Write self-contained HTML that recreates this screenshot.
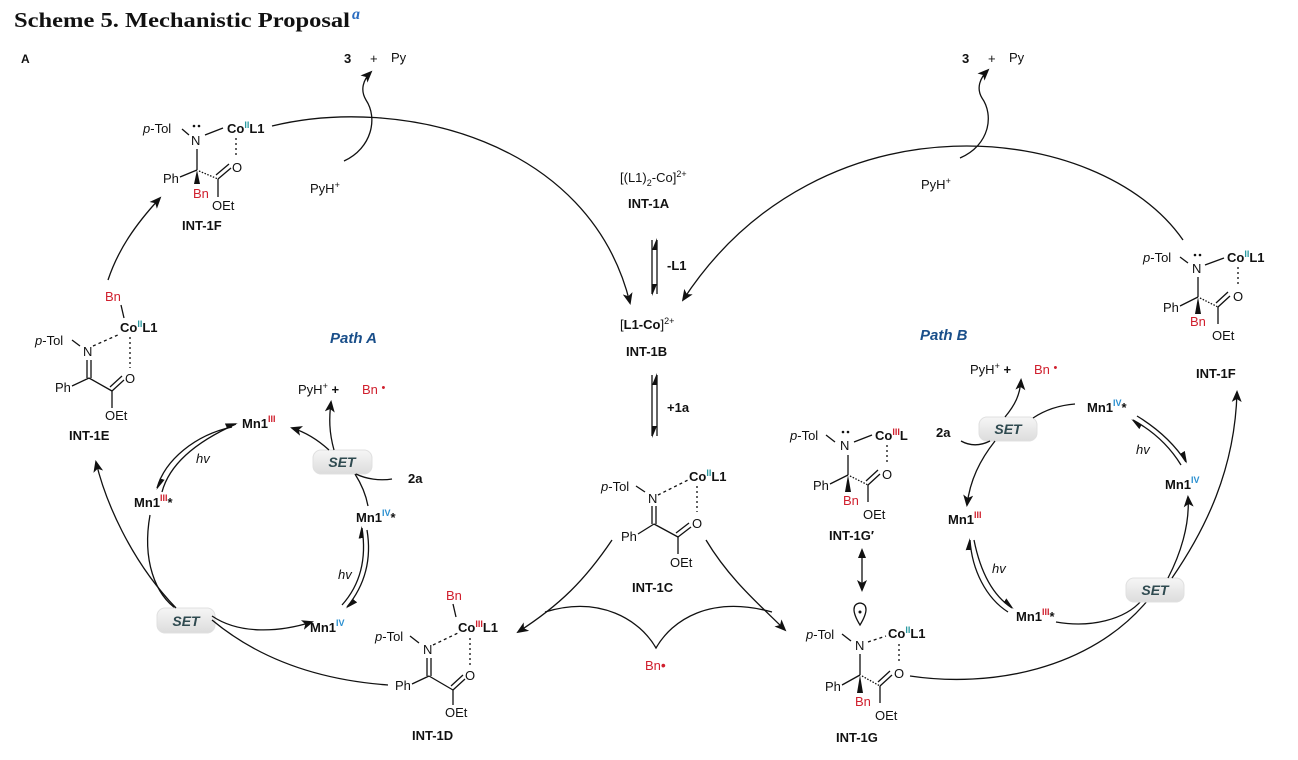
<!DOCTYPE html>
<html><head><meta charset="utf-8"><style>
html,body{margin:0;padding:0;background:#fff;}
svg{display:block;}
text{font-family:"Liberation Sans",Arial,sans-serif;font-size:13px;fill:#111;}
.b{font-weight:bold;}
.r{fill:#d0202e;}
.t{fill:#2a9aa0;}
.bl{fill:#2a8fd0;}
.sup{font-size:9px;}
.set{font-weight:bold;font-style:italic;font-size:14px;fill:#2f4a50;}
.path{font-weight:bold;font-style:italic;font-size:15px;fill:#1a4f8a;}
.l{stroke:#111;stroke-width:1.3;fill:none;}
.d{stroke:#111;stroke-width:1.3;fill:none;stroke-dasharray:3,3;}
</style></head><body>
<svg width="1298" height="760" viewBox="0 0 1298 760" xmlns="http://www.w3.org/2000/svg">
<defs>
<marker id="ah" markerWidth="12" markerHeight="10" refX="10" refY="5" orient="auto" markerUnits="userSpaceOnUse">
<path d="M0,0 L12,5 L0,10 L3,5 Z" fill="#111"/></marker>
<marker id="hh" markerWidth="12" markerHeight="6" refX="10" refY="5" orient="auto" markerUnits="userSpaceOnUse">
<path d="M0,0 L12,5 L0,5 Z" fill="#111"/></marker>
<linearGradient id="g" x1="0" y1="0" x2="0" y2="1"><stop offset="0" stop-color="#f6f6f6"/><stop offset="1" stop-color="#dcdcdc"/></linearGradient>
</defs>

<text x="14" y="27" textLength="336" lengthAdjust="spacingAndGlyphs" style="font-family:'Liberation Serif',serif;font-weight:bold;font-size:21px;">Scheme 5. Mechanistic Proposal</text>
<text x="352" y="19" style="font-family:'Liberation Serif',serif;font-style:italic;font-weight:bold;fill:#2a6cc0;font-size:16px;">a</text>
<text x="21" y="63" class="b" style="font-size:12px">A</text>

<!-- top 3 + Py -->
<text x="344" y="63" class="b">3</text><text x="370" y="63">+</text><text x="391" y="62">Py</text>
<text x="962" y="63" class="b">3</text><text x="988" y="63">+</text><text x="1009" y="62">Py</text>
<text x="310" y="193">PyH<tspan class="sup" dy="-5">+</tspan></text>
<text x="921" y="189">PyH<tspan class="sup" dy="-5">+</tspan></text>
<path class="l" d="M344,161 C372,148 378,118 366,100 C360,90 363,80 371,72" marker-end="url(#ah)"/>
<path class="l" d="M960,158 C990,145 994,115 982,98 C976,88 980,78 988,70" marker-end="url(#ah)"/>

<!-- big arcs -->
<path class="l" d="M272,126 C400,95 590,140 630,303" marker-end="url(#ah)"/>
<path class="l" d="M1183,240 C1100,120 820,90 683,300" marker-end="url(#ah)"/>

<!-- INT-1F left -->
<text x="143" y="133"><tspan font-style="italic">p</tspan>-Tol</text>
<line class="l" x1="182" y1="129" x2="189" y2="135" stroke-width="1"/>
<text x="191" y="145">N</text>
<circle cx="194" cy="126" r="1.3" fill="#111"/><circle cx="199" cy="126" r="1.3" fill="#111"/>
<line class="l" x1="205" y1="135" x2="223" y2="128"/>
<text x="227" y="133" class="b">Co<tspan class="sup t" dy="-5">II</tspan><tspan dy="5">L1</tspan></text>
<line class="d" x1="236" y1="138" x2="236" y2="158" style="stroke-dasharray:2,3"/>
<text x="232" y="172">O</text>
<line class="l" x1="197" y1="149" x2="197" y2="170"/>
<text x="163" y="183">Ph</text>
<line class="l" x1="180" y1="177" x2="197" y2="170"/>
<path d="M197,170 L194,184 L200,184 Z" fill="#111"/>
<line class="d" x1="199" y1="171" x2="218" y2="179" style="stroke-dasharray:1.5,1.5"/>
<line class="l" x1="218" y1="179" x2="231" y2="168"/><line class="l" x1="216" y1="175" x2="229" y2="164"/>
<line class="l" x1="218" y1="179" x2="218" y2="197"/>
<text x="193" y="198" class="r">Bn</text>
<text x="212" y="210">OEt</text>
<text x="182" y="230" class="b">INT-1F</text>

<!-- INT-1A/B -->
<text x="620" y="182">[(L1)<tspan class="sup" dy="4">2</tspan><tspan dy="-4">-Co]</tspan><tspan class="sup" dy="-5">2+</tspan></text>
<text x="628" y="208" class="b">INT-1A</text>
<line class="l" x1="652" y1="240" x2="652" y2="294" marker-end="url(#hh)"/>
<line class="l" x1="657" y1="294" x2="657" y2="240" marker-end="url(#hh)"/>
<text x="667" y="270" class="b">-L1</text>
<text x="620" y="329">[<tspan class="b">L1-Co</tspan>]<tspan class="sup" dy="-5">2+</tspan></text>
<text x="626" y="356" class="b">INT-1B</text>
<line class="l" x1="652" y1="375" x2="652" y2="436" marker-end="url(#hh)"/>
<line class="l" x1="657" y1="436" x2="657" y2="375" marker-end="url(#hh)"/>
<text x="667" y="412" class="b">+1a</text>

<!-- INT-1C -->
<text x="601" y="491"><tspan font-style="italic">p</tspan>-Tol</text>
<line class="l" x1="636" y1="486" x2="645" y2="492" stroke-width="1"/>
<text x="648" y="503">N</text>
<line class="d" x1="658" y1="495" x2="688" y2="480"/>
<text x="689" y="481" class="b">Co<tspan class="sup t" dy="-5">II</tspan><tspan dy="5">L1</tspan></text>
<line class="d" x1="697" y1="486" x2="697" y2="512" style="stroke-dasharray:2,3"/>
<text x="692" y="528">O</text>
<line class="l" x1="652" y1="506" x2="652" y2="524"/><line class="l" x1="656" y1="506" x2="656" y2="524"/>
<text x="621" y="541">Ph</text>
<line class="l" x1="638" y1="534" x2="654" y2="524"/>
<line class="l" x1="654" y1="524" x2="678" y2="537"/>
<line class="l" x1="678" y1="537" x2="691" y2="527"/><line class="l" x1="676" y1="533" x2="689" y2="523"/>
<line class="l" x1="678" y1="537" x2="678" y2="554"/>
<text x="670" y="567">OEt</text>
<text x="632" y="592" class="b">INT-1C</text>

<path class="l" d="M612,540 C585,580 560,605 518,632" marker-end="url(#ah)"/>
<path class="l" d="M706,540 C730,580 760,605 785,630" marker-end="url(#ah)"/>
<path class="l" d="M545,612 C600,595 640,620 656,648 C672,620 710,595 772,612"/>
<text x="645" y="670" class="r">Bn<tspan style="font-size:14px">•</tspan></text>

<!-- INT-1D -->
<text x="446" y="600" class="r">Bn</text>
<line class="l" x1="453" y1="604" x2="456" y2="617"/>
<text x="458" y="632" class="b">Co<tspan class="sup r" dy="-5">III</tspan><tspan dy="5">L1</tspan></text>
<text x="375" y="641"><tspan font-style="italic">p</tspan>-Tol</text>
<line class="l" x1="410" y1="636" x2="419" y2="643" stroke-width="1"/>
<text x="423" y="654">N</text>
<line class="d" x1="433" y1="645" x2="458" y2="633"/>
<line class="d" x1="470" y1="638" x2="470" y2="665" style="stroke-dasharray:2,3"/>
<text x="465" y="680">O</text>
<line class="l" x1="427" y1="658" x2="427" y2="676"/><line class="l" x1="431" y1="658" x2="431" y2="676"/>
<text x="395" y="690">Ph</text>
<line class="l" x1="412" y1="684" x2="429" y2="676"/>
<line class="l" x1="429" y1="676" x2="453" y2="690"/>
<line class="l" x1="453" y1="690" x2="465" y2="679"/><line class="l" x1="451" y1="686" x2="463" y2="675"/>
<line class="l" x1="453" y1="690" x2="453" y2="705"/>
<text x="445" y="717">OEt</text>
<text x="412" y="740" class="b">INT-1D</text>

<!-- INT-1E -->
<text x="105" y="301" class="r">Bn</text>
<line class="l" x1="121" y1="305" x2="124" y2="318"/>
<text x="120" y="332" class="b">Co<tspan class="sup t" dy="-5">II</tspan><tspan dy="5">L1</tspan></text>
<text x="35" y="345"><tspan font-style="italic">p</tspan>-Tol</text>
<line class="l" x1="72" y1="340" x2="80" y2="346" stroke-width="1"/>
<text x="83" y="356">N</text>
<line class="d" x1="93" y1="346" x2="120" y2="334"/>
<line class="d" x1="130" y1="337" x2="130" y2="368" style="stroke-dasharray:2,3"/>
<text x="125" y="383">O</text>
<line class="l" x1="87" y1="360" x2="87" y2="378"/><line class="l" x1="91" y1="360" x2="91" y2="378"/>
<text x="55" y="392">Ph</text>
<line class="l" x1="72" y1="386" x2="89" y2="378"/>
<line class="l" x1="89" y1="378" x2="112" y2="391"/>
<line class="l" x1="112" y1="391" x2="124" y2="380"/><line class="l" x1="110" y1="387" x2="122" y2="376"/>
<line class="l" x1="112" y1="391" x2="112" y2="408"/>
<text x="105" y="420">OEt</text>
<text x="69" y="440" class="b">INT-1E</text>
<path class="l" d="M108,280 C118,250 135,225 160,198" marker-end="url(#ah)"/>

<text x="330" y="343" class="path">Path A</text>
<text x="920" y="340" class="path">Path B</text>

<!-- Path A cycle -->
<text x="298" y="394">PyH<tspan class="sup" dy="-5">+</tspan><tspan dy="5" class="b"> +</tspan></text>
<text x="362" y="394" class="r">Bn <tspan style="font-size:11px" dy="-3">•</tspan></text>
<text x="242" y="428" class="b">Mn1<tspan class="sup r" dy="-6">III</tspan></text>
<path class="l" d="M232,427 C195,435 165,460 157,488" marker-end="url(#hh)"/>
<path class="l" d="M162,492 C170,462 200,440 236,424" marker-end="url(#hh)"/>
<text x="196" y="463" font-style="italic">hv</text>
<text x="134" y="507" class="b">Mn1<tspan class="sup r" dy="-6">III</tspan><tspan dy="6">*</tspan></text>
<path class="l" d="M150,515 C142,560 155,595 178,610"/>

<rect x="313" y="450" width="59" height="24" rx="8" fill="url(#g)" stroke="#e0e0e0"/>
<text x="342" y="467" class="set" text-anchor="middle">SET</text>
<path class="l" d="M334,450 C329,432 329,418 331,402" marker-end="url(#ah)"/>
<path class="l" d="M329,450 C318,440 305,432 292,428" marker-end="url(#ah)"/>
<path class="l" d="M392,479 C380,481 366,479 356,474"/>
<text x="408" y="483" class="b">2a</text>
<path class="l" d="M355,474 C362,485 366,495 368,506"/>
<text x="356" y="522" class="b">Mn1<tspan class="sup bl" dy="-6">IV</tspan><tspan dy="6">*</tspan></text>
<path class="l" d="M367,530 C372,560 365,585 347,607" marker-end="url(#hh)"/>
<path class="l" d="M342,605 C360,585 367,560 362,528" marker-end="url(#hh)"/>
<text x="338" y="579" font-style="italic">hv</text>
<text x="310" y="632" class="b">Mn1<tspan class="sup bl" dy="-6">IV</tspan></text>

<rect x="157" y="608" width="58" height="25" rx="8" fill="url(#g)" stroke="#e0e0e0"/>
<text x="186" y="626" class="set" text-anchor="middle">SET</text>
<path class="l" d="M176,608 C130,560 105,500 96,462" marker-end="url(#ah)"/>
<path class="l" d="M212,616 C240,635 280,632 312,622" marker-end="url(#ah)"/>
<path class="l" d="M212,620 C260,660 320,680 388,685"/>

<!-- INT-1G' -->
<text x="790" y="440"><tspan font-style="italic">p</tspan>-Tol</text>
<line class="l" x1="826" y1="435" x2="835" y2="442" stroke-width="1"/>
<text x="840" y="450">N</text>
<circle cx="843" cy="432" r="1.3" fill="#111"/><circle cx="848" cy="432" r="1.3" fill="#111"/>
<line class="l" x1="854" y1="442" x2="872" y2="435"/>
<text x="875" y="440" class="b">Co<tspan class="sup r" dy="-5">III</tspan><tspan dy="5">L</tspan></text>
<line class="d" x1="887" y1="445" x2="887" y2="465" style="stroke-dasharray:2,3"/>
<text x="882" y="479">O</text>
<line class="l" x1="848" y1="455" x2="848" y2="475"/>
<text x="813" y="490">Ph</text>
<line class="l" x1="830" y1="484" x2="848" y2="475"/>
<path d="M848,475 L845,492 L851,492 Z" fill="#111"/>
<line class="d" x1="850" y1="476" x2="868" y2="485" style="stroke-dasharray:1.5,1.5"/>
<line class="l" x1="868" y1="485" x2="880" y2="474"/><line class="l" x1="866" y1="481" x2="878" y2="470"/>
<line class="l" x1="868" y1="485" x2="868" y2="502"/>
<text x="843" y="505" class="r">Bn</text>
<text x="863" y="519">OEt</text>
<text x="829" y="540" class="b">INT-1G′</text>
<line class="l" x1="862" y1="552" x2="862" y2="590" marker-end="url(#ah)"/>
<path d="M862,548 L858,558 L866,558 Z" fill="#111"/>

<!-- INT-1G -->
<path class="l" d="M860,625 C852,612 852,604 860,603 C868,604 868,612 860,625 Z" stroke-width="1.1"/>
<circle cx="860" cy="612" r="1.5" fill="#111"/>
<text x="806" y="639"><tspan font-style="italic">p</tspan>-Tol</text>
<line class="l" x1="842" y1="634" x2="851" y2="641" stroke-width="1"/>
<text x="855" y="650">N</text>
<line class="d" x1="868" y1="642" x2="886" y2="636"/>
<text x="888" y="638" class="b">Co<tspan class="sup t" dy="-5">II</tspan><tspan dy="5">L1</tspan></text>
<line class="d" x1="899" y1="644" x2="899" y2="664" style="stroke-dasharray:2,3"/>
<text x="894" y="678">O</text>
<line class="l" x1="860" y1="654" x2="860" y2="675"/>
<text x="825" y="691">Ph</text>
<line class="l" x1="842" y1="685" x2="860" y2="675"/>
<path d="M860,675 L857,693 L863,693 Z" fill="#111"/>
<line class="d" x1="862" y1="676" x2="880" y2="686" style="stroke-dasharray:1.5,1.5"/>
<line class="l" x1="880" y1="686" x2="892" y2="675"/><line class="l" x1="878" y1="682" x2="890" y2="671"/>
<line class="l" x1="880" y1="686" x2="880" y2="703"/>
<text x="855" y="706" class="r">Bn</text>
<text x="875" y="720">OEt</text>
<text x="836" y="742" class="b">INT-1G</text>
<path class="l" d="M910,676 C990,688 1090,670 1148,600"/>

<!-- INT-1F right -->
<text x="1143" y="262"><tspan font-style="italic">p</tspan>-Tol</text>
<line class="l" x1="1180" y1="257" x2="1188" y2="263" stroke-width="1"/>
<text x="1192" y="273">N</text>
<circle cx="1195" cy="255" r="1.3" fill="#111"/><circle cx="1200" cy="255" r="1.3" fill="#111"/>
<line class="l" x1="1205" y1="265" x2="1224" y2="258"/>
<text x="1227" y="262" class="b">Co<tspan class="sup t" dy="-5">II</tspan><tspan dy="5">L1</tspan></text>
<line class="d" x1="1238" y1="267" x2="1238" y2="287" style="stroke-dasharray:2,3"/>
<text x="1233" y="301">O</text>
<line class="l" x1="1198" y1="277" x2="1198" y2="297"/>
<text x="1163" y="312">Ph</text>
<line class="l" x1="1180" y1="306" x2="1198" y2="297"/>
<path d="M1198,297 L1195,314 L1201,314 Z" fill="#111"/>
<line class="d" x1="1200" y1="298" x2="1218" y2="307" style="stroke-dasharray:1.5,1.5"/>
<line class="l" x1="1218" y1="307" x2="1230" y2="296"/><line class="l" x1="1216" y1="303" x2="1228" y2="292"/>
<line class="l" x1="1218" y1="307" x2="1218" y2="324"/>
<text x="1190" y="326" class="r">Bn</text>
<text x="1212" y="340">OEt</text>
<text x="1196" y="378" class="b">INT-1F</text>

<!-- Path B cycle -->
<text x="970" y="374">PyH<tspan class="sup" dy="-5">+</tspan><tspan dy="5" class="b"> +</tspan></text>
<text x="1034" y="374" class="r">Bn <tspan style="font-size:11px" dy="-3">•</tspan></text>
<rect x="979" y="417" width="58" height="24" rx="8" fill="url(#g)" stroke="#e0e0e0"/>
<text x="1008" y="434" class="set" text-anchor="middle">SET</text>
<path class="l" d="M1005,417 C1015,405 1020,395 1021,380" marker-end="url(#ah)"/>
<path class="l" d="M1033,418 C1048,408 1062,405 1075,404"/>
<text x="936" y="437" class="b">2a</text>
<path class="l" d="M961,441 C970,446 980,446 990,441"/>
<path class="l" d="M995,441 C980,460 970,480 967,505" marker-end="url(#ah)"/>
<text x="1087" y="412" class="b">Mn1<tspan class="sup bl" dy="-6">IV</tspan><tspan dy="6">*</tspan></text>
<path class="l" d="M1137,416 C1160,430 1175,445 1186,462" marker-end="url(#hh)"/>
<path class="l" d="M1181,465 C1170,447 1155,432 1133,420" marker-end="url(#hh)"/>
<text x="1136" y="454" font-style="italic">hv</text>
<text x="1165" y="489" class="b">Mn1<tspan class="sup bl" dy="-6">IV</tspan></text>
<text x="948" y="524" class="b">Mn1<tspan class="sup r" dy="-6">III</tspan></text>
<path class="l" d="M974,540 C980,570 992,595 1012,608" marker-end="url(#hh)"/>
<path class="l" d="M1008,612 C986,598 972,570 970,540" marker-end="url(#hh)"/>
<text x="992" y="573" font-style="italic">hv</text>
<text x="1016" y="621" class="b">Mn1<tspan class="sup r" dy="-6">III</tspan><tspan dy="6">*</tspan></text>
<path class="l" d="M1056,622 C1090,628 1125,620 1142,600"/>
<rect x="1126" y="578" width="58" height="24" rx="8" fill="url(#g)" stroke="#e0e0e0"/>
<text x="1155" y="595" class="set" text-anchor="middle">SET</text>
<path class="l" d="M1168,578 C1180,555 1190,525 1188,497" marker-end="url(#ah)"/>
<path class="l" d="M1172,578 C1205,530 1235,470 1237,392" marker-end="url(#ah)"/>
</svg>
</body></html>
